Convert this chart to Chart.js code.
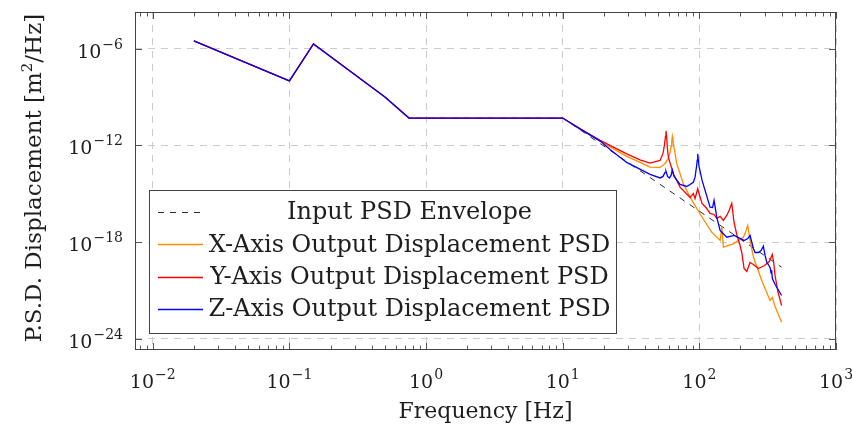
<!DOCTYPE html>
<html>
<head>
<meta charset="utf-8">
<script src="https://cdn.jsdelivr.net/npm/chart.js@4.4.0/dist/chart.umd.min.js"></script>
<style>
  html, body { margin: 0; padding: 0; background: #fff; }
</style>
</head>
<body>
<canvas id="psd" width="853" height="429"></canvas>
<script>
// Input envelope (same as the outputs below 10 Hz)
const freqInput = [0.02, 0.1, 0.15, 0.5, 0.75, 10, 400];
const psdInput  = [3.1e-6, 1.0e-8, 2.0e-6, 1.0e-9, 5.0e-11, 5.0e-11, 2.75e-20];

// X-axis output
const freqX = [0.02, 0.1, 0.15, 0.5, 0.75, 10, 13.4, 18.8, 22.2, 29.4, 36.8, 43.6, 51.6, 56.1, 59.3, 61.0,
  62.1, 62.8, 63.4, 64.0, 64.5, 66.4, 68.3, 76.4, 85.5, 101, 123, 142, 146, 150, 177, 210, 220, 226, 235, 249, 286, 320,
  329, 342, 358, 400];
const psdX = [3.1e-6, 1.0e-8, 2.0e-6, 1.0e-9, 5.0e-11, 5.0e-11, 1.06e-11, 1.9e-12, 8.1e-13, 2.07e-13, 8.8e-14, 4.5e-14, 4.3e-14, 7.6e-14, 1.56e-13, 3.7e-13,
  8.7e-13, 1.8e-12, 3.6e-12, 2.2e-12, 1.33e-12, 3.2e-13, 7.3e-14, 4.2e-15, 6.2e-16, 5.7e-17, 4.1e-18, 1.26e-18, 9.3e-18, 4.8e-19, 7.8e-19, 2.0e-18, 5.3e-18, 1.07e-17, 1.26e-18, 1.15e-19, 4.1e-21, 4.2e-22,
  2.4e-22, 3.6e-22, 1.0e-22, 1.06e-23];

// Y-axis output
const freqY = [0.02, 0.1, 0.15, 0.5, 0.75, 10, 13.4, 18.8, 22.2, 29.4, 36.8, 43.6, 51.6, 54.2, 55.5, 56.5, 57.0, 57.6, 58.3, 59.3,
  64.5, 72.2, 85.5, 90.4, 93.0, 97.3, 99.5, 104.7, 113.3, 119.8,
  128.1, 134.1, 141.8, 149.9, 158.7, 165, 172.7, 179.5, 187.8, 198.6,
  204.4, 212.4, 222.3, 235, 248.5, 270.4, 300, 325, 342, 350,
  358, 377, 400];
const psdY = [3.1e-6, 1.0e-8, 2.0e-6, 1.0e-9, 5.0e-11, 5.0e-11, 1.06e-11, 2.05e-12, 1.0e-12, 2.96e-13, 1.26e-13, 7.96e-14, 1.17e-13, 3.18e-13, 1.0e-12, 3.62e-12, 7.96e-12, 3.62e-12, 7.52e-13, 1.87e-13,
  1.75e-14, 2.57e-15, 5.89e-16, 1.04e-15, 5.1e-16, 2.05e-15, 1.04e-15, 2.5e-16, 1.22e-16, 5.97e-17,
  5.18e-17, 2.92e-17, 3.89e-17, 2.2e-17, 4.49e-17, 9.18e-17, 2.5e-16, 1.65e-17, 2.96e-18, 6.15e-19,
  2.26e-19, 2.29e-20, 1.49e-20, 5.4e-20, 4.06e-20, 2.29e-20, 3.52e-20, 6.24e-20, 1.7e-19, 5.4e-20,
  8.4e-21, 7.4e-22, 1.15e-22];

// Z-axis output
const freqZ = [0.02, 0.1, 0.15, 0.5, 0.75, 10, 13.4, 18.8, 22.2, 29.4, 43.6, 51.6, 54.2, 56.1, 57.0, 58.5,
  60.3, 62.1, 63.4, 65.3, 72.2, 80.9, 90.4, 93.0, 95.4, 96.5, 97.3, 98.3,
  99.5, 104.7, 119.8, 125, 128.1, 134.1, 141.8, 158.7, 179.5, 212.4,
  226.1, 235, 248.5, 255.7, 270.4, 282.9, 294.1, 302.7, 311.5, 320,
  329.4, 335, 338, 342.2, 358.3, 400];
const psdZ = [3.1e-6, 1.0e-8, 2.0e-6, 1.0e-9, 5.0e-11, 5.0e-11, 1.06e-11, 1.85e-12, 5.65e-13, 8.8e-14, 1.58e-14, 9.57e-15, 1.19e-14, 2.1e-14, 2.43e-14, 1.19e-14,
  9.57e-15, 1.37e-14, 3.0e-14, 1.19e-14, 3.78e-15, 2.84e-15, 5.04e-15, 1.07e-14, 4.97e-14, 1.2e-13, 3.05e-13, 1.2e-13,
  4.97e-14, 6.7e-15, 1.47e-16, 1.41e-16, 3.84e-16, 3.52e-17, 5.25e-18, 2.01e-18, 2.57e-18, 1.26e-18,
  1.67e-18, 2.57e-18, 4.0e-19, 2.26e-19, 2.26e-19, 3.0e-19, 5.56e-19, 1.47e-19, 5.4e-20, 4.06e-20,
  2.6e-20, 1.2e-20, 1.8e-20, 5.48e-21, 2.32e-21, 4.82e-22];

const seriesNames = ['Input PSD Envelope', 'X-Axis Output Displacement PSD', 'Y-Axis Output Displacement PSD', 'Z-Axis Output Displacement PSD'];

const xTickVals = [1e-2, 1e-1, 1e0, 1e1, 1e2, 1e3];
const xTickExp  = ['\u22122', '\u22121', '0', '1', '2', '3'];
const yTickVals = [1e-24, 1e-18, 1e-12, 1e-6];
const yTickExp  = ['\u221224', '\u221218', '\u221212', '\u22126'];

const serif = '"DejaVu Serif", serif';
const ink = '#1e1e1e';

function pts(fs, vs) {
  return fs.map((f, i) => ({ x: f, y: vs[i] }));
}

// "10" with a raised exponent
function drawPow(ctx, exp, x, y, align) {
  ctx.font = '19px ' + serif;
  const wb = ctx.measureText('10').width;
  ctx.font = '14px ' + serif;
  const we = ctx.measureText(exp).width;
  const total = wb + 1 + we;
  let sx = align === 'right' ? x - total : x - total / 2;
  ctx.font = '19px ' + serif;
  ctx.fillText('10', sx, y);
  ctx.font = '14px ' + serif;
  ctx.fillText(exp, sx + wb + 1, y - 9);
}

const decoPlugin = {
  id: 'deco',
  afterDatasetsDraw(chart) {
    const { ctx, chartArea: a, scales } = chart;
    const xs = scales.x, ys = scales.y;
    ctx.save();

    // tick marks, inside, on all four sides
    ctx.strokeStyle = '#555';
    ctx.lineWidth = 1;
    ctx.beginPath();
    const decades = [1e-3].concat(xTickVals);
    for (const d of decades) {
      for (let m = 1; m <= 9; m++) {
        const v = d * m;
        if (v < xs.min || v > xs.max) continue;
        const len = m === 1 ? 7 : 4.5;
        const px = Math.round(xs.getPixelForValue(v)) + 0.5;
        ctx.moveTo(px, a.bottom); ctx.lineTo(px, a.bottom - len);
        ctx.moveTo(px, a.top); ctx.lineTo(px, a.top + len);
      }
    }
    for (const v of yTickVals) {
      const py = Math.round(ys.getPixelForValue(v)) + 0.5;
      ctx.moveTo(a.left, py); ctx.lineTo(a.left + 7, py);
      ctx.moveTo(a.right, py); ctx.lineTo(a.right - 7, py);
    }
    ctx.stroke();

    // frame
    ctx.strokeStyle = '#444';
    ctx.strokeRect(a.left + 0.5, a.top + 0.5, a.width - 1, a.height - 1);

    // tick labels
    ctx.fillStyle = ink;
    ctx.textBaseline = 'alphabetic';
    xTickVals.forEach((v, i) => {
      drawPow(ctx, xTickExp[i], xs.getPixelForValue(v), a.bottom + 38, 'center');
    });
    yTickVals.forEach((v, i) => {
      drawPow(ctx, yTickExp[i], a.left - 12, ys.getPixelForValue(v) + 9, 'right');
    });

    // axis titles
    ctx.font = '22px ' + serif;
    ctx.textAlign = 'center';
    ctx.fillText('Frequency [Hz]', (a.left + a.right) / 2, a.bottom + 68);

    ctx.save();
    ctx.translate(41, a.top + a.height / 2 - 3);
    ctx.rotate(-Math.PI / 2);
    ctx.textAlign = 'left';
    const p1 = 'P.S.D. Displacement [m', p2 = '2', p3 = '/Hz]';
    ctx.font = '23px ' + serif;
    const w1 = ctx.measureText(p1).width, w3 = ctx.measureText(p3).width;
    ctx.font = '15px ' + serif;
    const w2 = ctx.measureText(p2).width;
    let sx = -(w1 + w2 + w3) / 2;
    ctx.font = '23px ' + serif;
    ctx.fillText(p1, sx, 0);
    ctx.font = '15px ' + serif;
    ctx.fillText(p2, sx + w1, -9);
    ctx.font = '23px ' + serif;
    ctx.fillText(p3, sx + w1 + w2, 0);
    ctx.restore();

    // legend box
    const bx = a.left + 14, bw = 467, bh = 143, by = a.bottom - 17 - bh;
    ctx.fillStyle = '#fff';
    ctx.fillRect(bx, by, bw, bh);
    ctx.strokeStyle = '#444';
    ctx.strokeRect(bx + 0.5, by + 0.5, bw, bh);
    chart.data.datasets.forEach((ds, i) => {
      const ry = by + 22 + i * 32.3;
      ctx.beginPath();
      ctx.strokeStyle = ds.borderColor;
      ctx.lineWidth = ds.borderWidth;
      ctx.setLineDash(ds.borderDash || []);
      ctx.moveTo(bx + 9, Math.round(ry) + 0.5);
      ctx.lineTo(bx + 54, Math.round(ry) + 0.5);
      ctx.stroke();
      ctx.setLineDash([]);
      ctx.fillStyle = ink;
      ctx.font = '24px ' + serif;
      ctx.textAlign = 'center';
      ctx.textBaseline = 'middle';
      ctx.fillText(ds.label, bx + 60 + (bw - 66) / 2, ry + 1);
    });
    ctx.restore();
  }
};

const lineCommon = { pointRadius: 0, tension: 0, fill: false };

new Chart(document.getElementById('psd'), {
  type: 'line',
  data: {
    datasets: [
      { ...lineCommon, label: seriesNames[0], data: pts(freqInput, psdInput), borderColor: '#2a2a2a', borderWidth: 1, borderDash: [6, 6], order: 3 },
      { ...lineCommon, label: seriesNames[1], data: pts(freqX, psdX), borderColor: '#ff8c00', borderWidth: 1.3, order: 2 },
      { ...lineCommon, label: seriesNames[2], data: pts(freqY, psdY), borderColor: '#ff0000', borderWidth: 1.3, order: 1 },
      { ...lineCommon, label: seriesNames[3], data: pts(freqZ, psdZ), borderColor: '#0000ff', borderWidth: 1.3, order: 0 }
    ]
  },
  options: {
    responsive: false,
    devicePixelRatio: 1,
    animation: false,
    events: [],
    layout: { padding: { left: 135, right: 17, top: 12, bottom: 79 } },
    plugins: { legend: { display: false }, tooltip: { enabled: false } },
    scales: {
      x: {
        type: 'logarithmic',
        min: Math.pow(10, -2.13),
        max: 1000,
        afterBuildTicks: s => { s.ticks = xTickVals.map(v => ({ value: v })); },
        ticks: { display: false },
        grid: { color: '#cccccc', lineWidth: 1, drawTicks: false },
        border: { display: false, dash: [7, 6] }
      },
      y: {
        type: 'logarithmic',
        min: Math.pow(10, -24.68),
        max: Math.pow(10, -3.72),
        afterBuildTicks: s => { s.ticks = yTickVals.map(v => ({ value: v })); },
        ticks: { display: false },
        grid: { color: '#cccccc', lineWidth: 1, drawTicks: false },
        border: { display: false, dash: [7, 6] }
      }
    }
  },
  plugins: [decoPlugin]
});
</script>
</body>
</html>
